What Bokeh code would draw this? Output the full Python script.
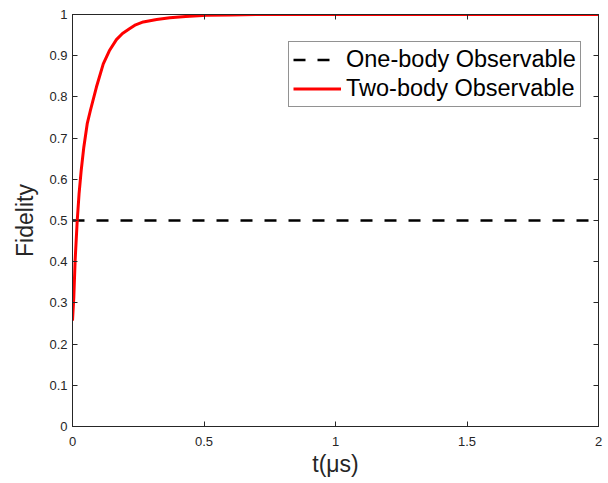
from bokeh.plotting import figure
from bokeh.models import LinearAxis, Range1d, FixedTicker, Legend, LegendItem
from bokeh.embed import file_html
from bokeh.resources import INLINE

# data
t_two = [0, 0.005, 0.010, 0.018, 0.025, 0.033, 0.043, 0.056, 0.068, 0.091, 0.117, 0.14,
         0.167, 0.19, 0.218, 0.24, 0.269, 0.32, 0.37, 0.43, 0.51, 0.6, 0.7, 1.0, 1.5, 2.0]
f_two = [0.257, 0.314, 0.403, 0.50, 0.565, 0.621, 0.678, 0.735, 0.767, 0.824, 0.88, 0.912,
         0.939, 0.954, 0.966, 0.975, 0.982, 0.988, 0.992, 0.995, 0.998, 0.999, 1.0, 1.0, 1.0, 1.0]
t_one = [0, 2.0]
f_one = [0.5, 0.5]
x_ticks = [0, 0.5, 1, 1.5, 2]
y_ticks = [0, 0.1, 0.2, 0.3, 0.4, 0.5, 0.6, 0.7, 0.8, 0.9, 1]

AX = "#262626"
FONT = "Liberation Sans"

p = figure(width=606, height=483, output_backend="svg", toolbar_location=None,
           x_range=Range1d(0, 2), y_range=Range1d(0, 1),
           min_border_left=72, min_border_right=8, min_border_top=14, min_border_bottom=57)
p.xgrid.visible = False
p.ygrid.visible = False
p.outline_line_color = AX
p.outline_line_width = 1

for ax in p.xaxis:
    ax.ticker = FixedTicker(ticks=x_ticks)
    ax.axis_label = "t(μs)"
    ax.major_label_overrides = {0: "0", 1: "1", 2: "2"}
for ax in p.yaxis:
    ax.ticker = FixedTicker(ticks=y_ticks)
    ax.axis_label = "Fidelity"
    ax.major_label_overrides = {0: "0", 1: "1"}
for ax in list(p.xaxis) + list(p.yaxis):
    ax.axis_line_color = AX
    ax.major_tick_line_color = AX
    ax.major_tick_in = 5
    ax.major_tick_out = 0
    ax.minor_tick_line_color = None
    ax.major_label_text_font = FONT
    ax.major_label_text_font_size = "13px"
    ax.major_label_text_color = AX
    ax.axis_label_text_font = FONT
    ax.axis_label_text_font_size = "23px"
    ax.axis_label_text_font_style = "normal"
    ax.axis_label_text_color = AX
    ax.axis_label_standoff = 8
    ax.major_label_standoff = 5
p.xaxis.major_label_standoff = 10
p.xaxis.axis_label_standoff = 2

top = LinearAxis(ticker=FixedTicker(ticks=x_ticks),
                 major_label_overrides={v: "" for v in x_ticks},
                 major_tick_in=5, major_tick_out=0, minor_tick_line_color=None,
                 axis_line_color=AX, major_tick_line_color=AX, major_label_standoff=0)
right = LinearAxis(ticker=FixedTicker(ticks=y_ticks),
                   major_label_overrides={v: "" for v in y_ticks},
                   major_tick_in=5, major_tick_out=0, minor_tick_line_color=None,
                   axis_line_color=AX, major_tick_line_color=AX, major_label_standoff=0)
p.add_layout(top, "above")
p.add_layout(right, "right")

r1 = p.line(t_one, f_one, line_color="black", line_width=2.5, line_dash="12 12")
r2 = p.line(t_two, f_two, line_color="red", line_width=3, line_join="round")

legend = Legend(items=[LegendItem(label="One-body Observable", renderers=[r1]),
                       LegendItem(label="Two-body Observable", renderers=[r2])],
                location=(216, 319))
legend.label_text_font = FONT
legend.label_text_font_size = "23.5px"
legend.label_text_color = "black"
legend.border_line_color = AX
legend.border_line_width = 1
legend.glyph_width = 48
legend.glyph_height = 27
legend.label_height = 27
legend.spacing = 2
legend.padding = 4
legend.label_standoff = 5
legend.margin = 0
legend.background_fill_alpha = 1
p.add_layout(legend, "center")

open("out.html", "w").write(file_html(p, INLINE))
